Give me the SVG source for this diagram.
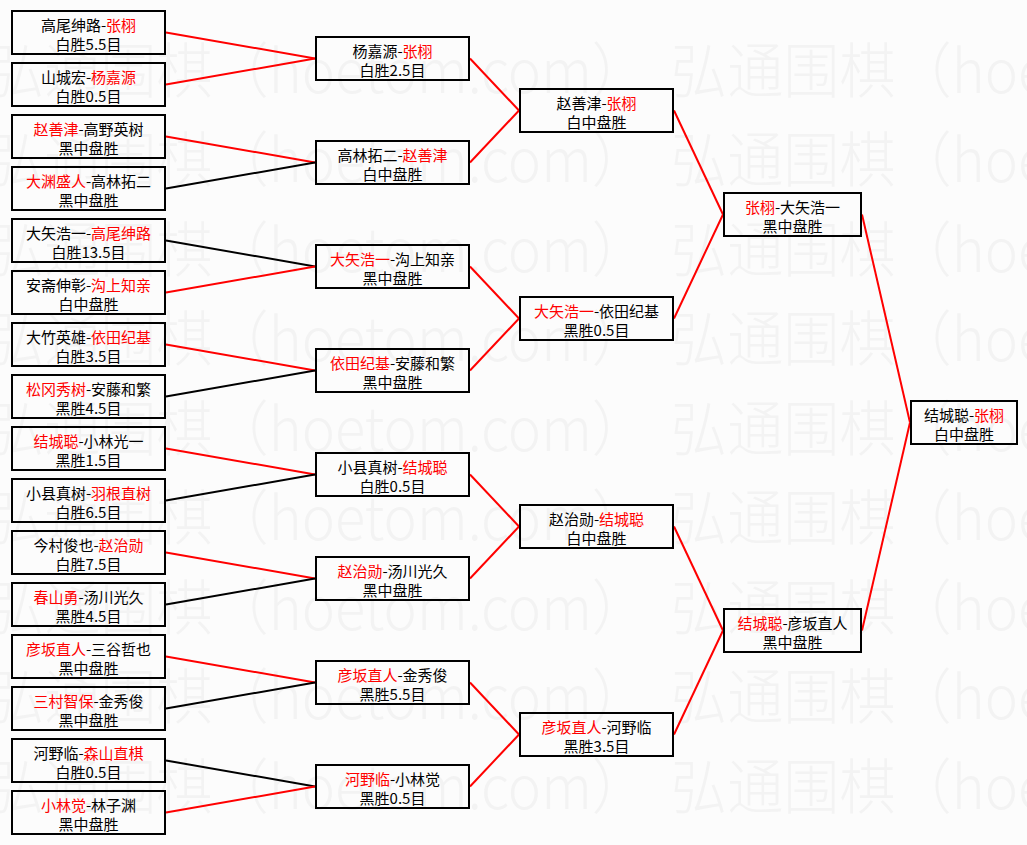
<svg xmlns="http://www.w3.org/2000/svg" width="1027" height="845" viewBox="0 0 1027 845">
<style>
.bg{fill:#fcfcfc}
.wm{font-family:"Noto Sans CJK SC",sans-serif;font-size:60px;font-weight:300;fill:#f3f3f3}
.box{fill:none;stroke:#000;stroke-width:2}
.t{font-family:"Noto Sans CJK SC",sans-serif;font-size:15px;fill:#000;text-anchor:middle}
.r{fill:#f00}
.lr{stroke:#f00;stroke-width:2;fill:none}
.lb{stroke:#000;stroke-width:2;fill:none}
</style>
<rect class="bg" x="0" y="0" width="1027" height="845"/>
<g id="watermark" class="wm">
<text x="-12" y="93" textLength="660" lengthAdjust="spacingAndGlyphs">弘通围棋（hoetom.com）</text>
<text x="671" y="93" textLength="660" lengthAdjust="spacingAndGlyphs">弘通围棋（hoetom.com）</text>
<text x="-12" y="182" textLength="660" lengthAdjust="spacingAndGlyphs">弘通围棋（hoetom.com）</text>
<text x="671" y="182" textLength="660" lengthAdjust="spacingAndGlyphs">弘通围棋（hoetom.com）</text>
<text x="-12" y="272" textLength="660" lengthAdjust="spacingAndGlyphs">弘通围棋（hoetom.com）</text>
<text x="671" y="272" textLength="660" lengthAdjust="spacingAndGlyphs">弘通围棋（hoetom.com）</text>
<text x="-12" y="361" textLength="660" lengthAdjust="spacingAndGlyphs">弘通围棋（hoetom.com）</text>
<text x="671" y="361" textLength="660" lengthAdjust="spacingAndGlyphs">弘通围棋（hoetom.com）</text>
<text x="-12" y="451" textLength="660" lengthAdjust="spacingAndGlyphs">弘通围棋（hoetom.com）</text>
<text x="671" y="451" textLength="660" lengthAdjust="spacingAndGlyphs">弘通围棋（hoetom.com）</text>
<text x="-12" y="540" textLength="660" lengthAdjust="spacingAndGlyphs">弘通围棋（hoetom.com）</text>
<text x="671" y="540" textLength="660" lengthAdjust="spacingAndGlyphs">弘通围棋（hoetom.com）</text>
<text x="-12" y="630" textLength="660" lengthAdjust="spacingAndGlyphs">弘通围棋（hoetom.com）</text>
<text x="671" y="630" textLength="660" lengthAdjust="spacingAndGlyphs">弘通围棋（hoetom.com）</text>
<text x="-12" y="719" textLength="660" lengthAdjust="spacingAndGlyphs">弘通围棋（hoetom.com）</text>
<text x="671" y="719" textLength="660" lengthAdjust="spacingAndGlyphs">弘通围棋（hoetom.com）</text>
<text x="-12" y="809" textLength="660" lengthAdjust="spacingAndGlyphs">弘通围棋（hoetom.com）</text>
<text x="671" y="809" textLength="660" lengthAdjust="spacingAndGlyphs">弘通围棋（hoetom.com）</text>
</g>
<g id="connectors">
<line class="lr" x1="166" y1="32.5" x2="315" y2="58.5"/>
<line class="lr" x1="166" y1="84.5" x2="315" y2="58.5"/>
<line class="lr" x1="166" y1="136.5" x2="315" y2="162.5"/>
<line class="lb" x1="166" y1="188.5" x2="315" y2="162.5"/>
<line class="lb" x1="166" y1="240.5" x2="315" y2="266.5"/>
<line class="lr" x1="166" y1="292.5" x2="315" y2="266.5"/>
<line class="lr" x1="166" y1="344.5" x2="315" y2="370.5"/>
<line class="lb" x1="166" y1="396.5" x2="315" y2="370.5"/>
<line class="lr" x1="166" y1="448.5" x2="315" y2="474.5"/>
<line class="lb" x1="166" y1="500.5" x2="315" y2="474.5"/>
<line class="lr" x1="166" y1="552.5" x2="315" y2="578.5"/>
<line class="lb" x1="166" y1="604.5" x2="315" y2="578.5"/>
<line class="lr" x1="166" y1="656.5" x2="315" y2="682.5"/>
<line class="lb" x1="166" y1="708.5" x2="315" y2="682.5"/>
<line class="lb" x1="166" y1="760.5" x2="315" y2="786.5"/>
<line class="lr" x1="166" y1="812.5" x2="315" y2="786.5"/>
<line class="lr" x1="470" y1="58.5" x2="519" y2="110.5"/>
<line class="lr" x1="470" y1="162.5" x2="519" y2="110.5"/>
<line class="lr" x1="470" y1="266.5" x2="519" y2="318.5"/>
<line class="lr" x1="470" y1="370.5" x2="519" y2="318.5"/>
<line class="lr" x1="470" y1="474.5" x2="519" y2="526.5"/>
<line class="lr" x1="470" y1="578.5" x2="519" y2="526.5"/>
<line class="lr" x1="470" y1="682.5" x2="519" y2="734.5"/>
<line class="lr" x1="470" y1="786.5" x2="519" y2="734.5"/>
<line class="lr" x1="674" y1="110.5" x2="723" y2="214.5"/>
<line class="lr" x1="674" y1="318.5" x2="723" y2="214.5"/>
<line class="lr" x1="674" y1="526.5" x2="723" y2="630.5"/>
<line class="lr" x1="674" y1="734.5" x2="723" y2="630.5"/>
<line class="lr" x1="862" y1="214.5" x2="910" y2="422.5"/>
<line class="lr" x1="862" y1="630.5" x2="910" y2="422.5"/>
</g>
<g id="r1-1"><rect class="box" x="12" y="11" width="153" height="43"/><text class="t" x="88.5" y="31">高尾绅路-<tspan class="r">张栩</tspan></text><text class="t" x="88.5" y="50">白胜5.5目</text></g>
<g id="r1-2"><rect class="box" x="12" y="63" width="153" height="43"/><text class="t" x="88.5" y="83">山城宏-<tspan class="r">杨嘉源</tspan></text><text class="t" x="88.5" y="102">白胜0.5目</text></g>
<g id="r1-3"><rect class="box" x="12" y="115" width="153" height="43"/><text class="t" x="88.5" y="135"><tspan class="r">赵善津</tspan>-高野英树</text><text class="t" x="88.5" y="154">黑中盘胜</text></g>
<g id="r1-4"><rect class="box" x="12" y="167" width="153" height="43"/><text class="t" x="88.5" y="187"><tspan class="r">大渊盛人</tspan>-高林拓二</text><text class="t" x="88.5" y="206">黑中盘胜</text></g>
<g id="r1-5"><rect class="box" x="12" y="219" width="153" height="43"/><text class="t" x="88.5" y="239">大矢浩一-<tspan class="r">高尾绅路</tspan></text><text class="t" x="88.5" y="258">白胜13.5目</text></g>
<g id="r1-6"><rect class="box" x="12" y="271" width="153" height="43"/><text class="t" x="88.5" y="291">安斋伸彰-<tspan class="r">沟上知亲</tspan></text><text class="t" x="88.5" y="310">白中盘胜</text></g>
<g id="r1-7"><rect class="box" x="12" y="323" width="153" height="43"/><text class="t" x="88.5" y="343">大竹英雄-<tspan class="r">依田纪基</tspan></text><text class="t" x="88.5" y="362">白胜3.5目</text></g>
<g id="r1-8"><rect class="box" x="12" y="375" width="153" height="43"/><text class="t" x="88.5" y="395"><tspan class="r">松冈秀树</tspan>-安藤和繁</text><text class="t" x="88.5" y="414">黑胜4.5目</text></g>
<g id="r1-9"><rect class="box" x="12" y="427" width="153" height="43"/><text class="t" x="88.5" y="447"><tspan class="r">结城聪</tspan>-小林光一</text><text class="t" x="88.5" y="466">黑胜1.5目</text></g>
<g id="r1-10"><rect class="box" x="12" y="479" width="153" height="43"/><text class="t" x="88.5" y="499">小县真树-<tspan class="r">羽根直树</tspan></text><text class="t" x="88.5" y="518">白胜6.5目</text></g>
<g id="r1-11"><rect class="box" x="12" y="531" width="153" height="43"/><text class="t" x="88.5" y="551">今村俊也-<tspan class="r">赵治勋</tspan></text><text class="t" x="88.5" y="570">白胜7.5目</text></g>
<g id="r1-12"><rect class="box" x="12" y="583" width="153" height="43"/><text class="t" x="88.5" y="603"><tspan class="r">春山勇</tspan>-汤川光久</text><text class="t" x="88.5" y="622">黑胜4.5目</text></g>
<g id="r1-13"><rect class="box" x="12" y="635" width="153" height="43"/><text class="t" x="88.5" y="655"><tspan class="r">彦坂直人</tspan>-三谷哲也</text><text class="t" x="88.5" y="674">黑中盘胜</text></g>
<g id="r1-14"><rect class="box" x="12" y="687" width="153" height="43"/><text class="t" x="88.5" y="707"><tspan class="r">三村智保</tspan>-金秀俊</text><text class="t" x="88.5" y="726">黑中盘胜</text></g>
<g id="r1-15"><rect class="box" x="12" y="739" width="153" height="43"/><text class="t" x="88.5" y="759">河野临-<tspan class="r">森山直棋</tspan></text><text class="t" x="88.5" y="778">白胜0.5目</text></g>
<g id="r1-16"><rect class="box" x="12" y="791" width="153" height="43"/><text class="t" x="88.5" y="811"><tspan class="r">小林觉</tspan>-林子渊</text><text class="t" x="88.5" y="830">黑中盘胜</text></g>
<g id="r2-1"><rect class="box" x="316" y="37" width="153" height="43"/><text class="t" x="392.5" y="57">杨嘉源-<tspan class="r">张栩</tspan></text><text class="t" x="392.5" y="76">白胜2.5目</text></g>
<g id="r2-2"><rect class="box" x="316" y="141" width="153" height="43"/><text class="t" x="392.5" y="161">高林拓二-<tspan class="r">赵善津</tspan></text><text class="t" x="392.5" y="180">白中盘胜</text></g>
<g id="r2-3"><rect class="box" x="316" y="245" width="153" height="43"/><text class="t" x="392.5" y="265"><tspan class="r">大矢浩一</tspan>-沟上知亲</text><text class="t" x="392.5" y="284">黑中盘胜</text></g>
<g id="r2-4"><rect class="box" x="316" y="349" width="153" height="43"/><text class="t" x="392.5" y="369"><tspan class="r">依田纪基</tspan>-安藤和繁</text><text class="t" x="392.5" y="388">黑中盘胜</text></g>
<g id="r2-5"><rect class="box" x="316" y="453" width="153" height="43"/><text class="t" x="392.5" y="473">小县真树-<tspan class="r">结城聪</tspan></text><text class="t" x="392.5" y="492">白胜0.5目</text></g>
<g id="r2-6"><rect class="box" x="316" y="557" width="153" height="43"/><text class="t" x="392.5" y="577"><tspan class="r">赵治勋</tspan>-汤川光久</text><text class="t" x="392.5" y="596">黑中盘胜</text></g>
<g id="r2-7"><rect class="box" x="316" y="661" width="153" height="43"/><text class="t" x="392.5" y="681"><tspan class="r">彦坂直人</tspan>-金秀俊</text><text class="t" x="392.5" y="700">黑胜5.5目</text></g>
<g id="r2-8"><rect class="box" x="316" y="765" width="153" height="43"/><text class="t" x="392.5" y="785"><tspan class="r">河野临</tspan>-小林觉</text><text class="t" x="392.5" y="804">黑胜0.5目</text></g>
<g id="r3-1"><rect class="box" x="520" y="89" width="153" height="43"/><text class="t" x="596.5" y="109">赵善津-<tspan class="r">张栩</tspan></text><text class="t" x="596.5" y="128">白中盘胜</text></g>
<g id="r3-2"><rect class="box" x="520" y="297" width="153" height="43"/><text class="t" x="596.5" y="317"><tspan class="r">大矢浩一</tspan>-依田纪基</text><text class="t" x="596.5" y="336">黑胜0.5目</text></g>
<g id="r3-3"><rect class="box" x="520" y="505" width="153" height="43"/><text class="t" x="596.5" y="525">赵治勋-<tspan class="r">结城聪</tspan></text><text class="t" x="596.5" y="544">白中盘胜</text></g>
<g id="r3-4"><rect class="box" x="520" y="713" width="153" height="43"/><text class="t" x="596.5" y="733"><tspan class="r">彦坂直人</tspan>-河野临</text><text class="t" x="596.5" y="752">黑胜3.5目</text></g>
<g id="r4-1"><rect class="box" x="724" y="193" width="137" height="43"/><text class="t" x="792.5" y="213"><tspan class="r">张栩</tspan>-大矢浩一</text><text class="t" x="792.5" y="232">黑中盘胜</text></g>
<g id="r4-2"><rect class="box" x="724" y="609" width="137" height="43"/><text class="t" x="792.5" y="629"><tspan class="r">结城聪</tspan>-彦坂直人</text><text class="t" x="792.5" y="648">黑中盘胜</text></g>
<g id="final"><rect class="box" x="911" y="401" width="106" height="43"/><text class="t" x="964" y="421">结城聪-<tspan class="r">张栩</tspan></text><text class="t" x="964" y="440">白中盘胜</text></g>
</svg>
